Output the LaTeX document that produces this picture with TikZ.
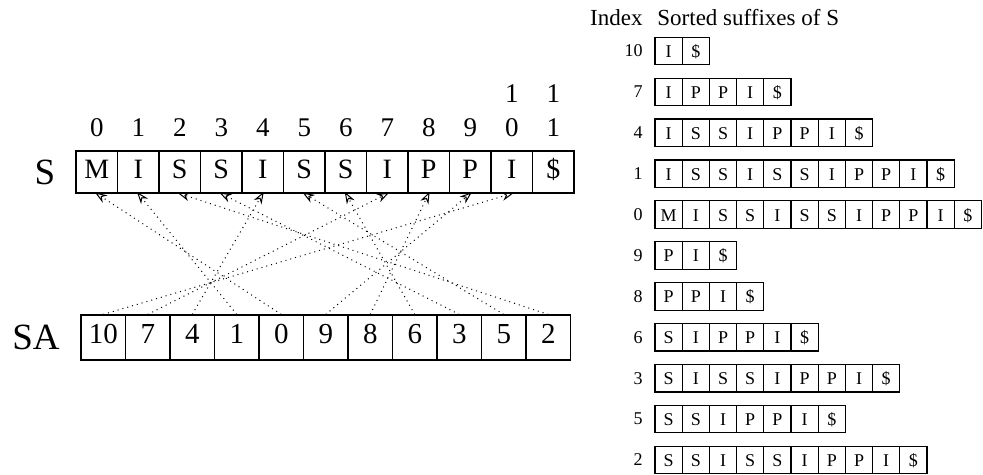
\documentclass[tikz,border=0pt]{standalone}
\usepackage{fontspec}
\setmainfont{Liberation Serif}
\usepackage{tikz}
\usetikzlibrary{arrows.meta}
\usetikzlibrary{positioning}
\tikzstyle{cell_style0}=[draw, line width=0.6pt, inner sep=0pt,
anchor=center, text centered, text height=1.4ex, text depth=0pt]
\tikzstyle{big_cell}=[cell_style0, minimum width=20.75pt, minimum height=21pt, font=\fontsize{14}{16}\selectfont]
\tikzstyle{sa_cell}=[cell_style0, minimum width=22.25pt, minimum height=22.5pt, font=\fontsize{14.5}{16}\selectfont]
\tikzstyle{small_cell}=[cell_style0, minimum width=13.6pt, minimum height=13.75pt, font=\fontsize{9}{10}\selectfont]
\tikzstyle{index_top}=[inner sep=0pt, font=\fontsize{13.5}{15}\selectfont]
\tikzstyle{index_small}=[inner sep=0pt, anchor=east, font=\fontsize{9}{10}\selectfont]
\tikzstyle{big_label}=[inner sep=0pt, font=\fontsize{18.5}{20}\selectfont]
\tikzstyle{myarrow}=[-{Stealth[open, length=6pt, width=4.4pt]}, dotted, line width=0.5pt, shorten >=-1pt]

\begin{document}
\begin{tikzpicture}[x=0.5pt, y=-0.5pt]
		\useasboundingbox (0,0) rectangle (983,475);

		% the string S and its positions
		\node[big_label] (S) at (45,172) {S};
		\foreach \c [count=\i from 0] in {M,I,S,S,I,S,S,I,P,P,I,\$} {
			\node[big_cell] (s\i) at (96.75+41.5*\i,172) {\c};
			\pgfmathtruncatemacro{\lo}{mod(\i,10)}
			\node[index_top] (n\i) at (96.75+41.5*\i,128) {\lo};
			\ifnum\i>9 \node[index_top] (m\i) at (96.75+41.5*\i,94) {1}; \fi
		}

		% the suffix array, pointing back into S
		\node[big_label] (SA) at (36,337.5) {SA};
		\foreach \v [count=\i from 0] in {10,7,4,1,0,9,8,6,3,5,2} {
			\node[sa_cell] (sa\i) at (103.25+44.5*\i,337.5) {\v};
			\draw[myarrow] (sa\i.north) -- (s\v.south) ;
		}

		% sorted suffixes
		\node[anchor=base east, inner sep=0pt, font=\fontsize{11.5}{13}\selectfont] (head1) at (643,26) {Index} ;
		\node[anchor=base west, inner sep=0pt, font=\fontsize{11.5}{13}\selectfont] (head2) at (657,26) {Sorted suffixes of S} ;
		\foreach \idx/\suf [count=\r from 0] in {10/{I,\$}, 7/{I,P,P,I,\$}, 4/{I,S,S,I,P,P,I,\$},
				1/{I,S,S,I,S,S,I,P,P,I,\$}, 0/{M,I,S,S,I,S,S,I,P,P,I,\$}, 9/{P,I,\$}, 8/{P,P,I,\$},
				6/{S,I,P,P,I,\$}, 3/{S,I,S,S,I,P,P,I,\$}, 5/{S,S,I,P,P,I,\$}, 2/{S,S,I,S,S,I,P,P,I,\$}} {
			\node[index_small] (k\r) at (643,51+40.9*\r) {\idx};
			\foreach \c [count=\j from 0] in \suf {
				\node[small_cell] (c\r-\j) at (668.6+27.2*\j,51+40.9*\r) {\c};
			}
		}

	\end{tikzpicture}
\end{document}
